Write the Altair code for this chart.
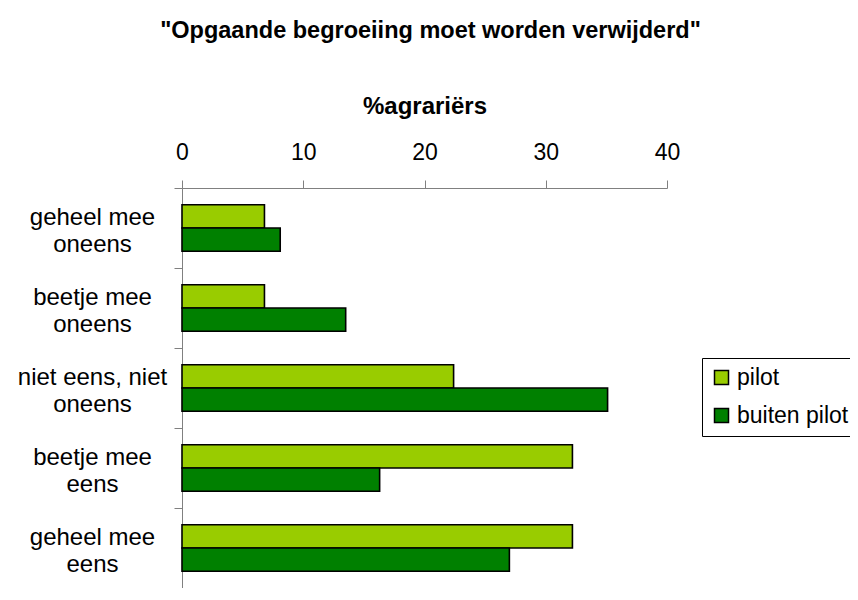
import altair as alt
import pandas as pd

categories = ["geheel mee\noneens", "beetje mee\noneens", "niet eens, niet\noneens",
              "beetje mee\neens", "geheel mee\neens"]
series = ["pilot", "buiten pilot"]
pilot = [6.8, 6.8, 22.4, 32.2, 32.2]
buiten_pilot = [8.1, 13.5, 35.1, 16.3, 27.0]
colors = ["#99CC00", "#008000"]

rows = []
for i, c in enumerate(categories):
    rows.append({"cat": c, "series": series[0], "value": pilot[i]})
    rows.append({"cat": c, "series": series[1], "value": buiten_pilot[i]})
df = pd.DataFrame(rows)

FONT = "Liberation Sans"
H = 400
STEP = H / 5

chart = alt.Chart(df).mark_bar(stroke="black", strokeWidth=1.6).encode(
    x=alt.X("value:Q",
            scale=alt.Scale(domain=[0, 40], nice=False),
            axis=alt.Axis(orient="top", values=[0, 10, 20, 30, 40], title="%agrariërs",
                          grid=False, tickSize=8, labelPadding=16, labelFlush=False,
                          labelFontSize=23, labelFont=FONT, labelColor="black",
                          domainColor="#808080", tickColor="#808080",
                          titleFont=FONT, titleFontSize=24, titleFontWeight="bold",
                          titleColor="black", titleY=-82, titleBaseline="middle")),
    y=alt.Y("cat:N", sort=categories,
            scale=alt.Scale(paddingInner=0.42, paddingOuter=0.21),
            axis=alt.Axis(title=None, tickSize=8, tickOffset=-STEP / 2,
                          labelPadding=82, labelOffset=STEP / 2 - 11,
                          labelAlign="center", labelBaseline="middle",
                          labelExpr="split(datum.label, '\\n')",
                          labelFontSize=24, labelLineHeight=27, labelFont=FONT,
                          labelColor="black", domainColor="#808080", tickColor="#808080",
                          labelLimit=300)),
    yOffset=alt.YOffset("series:N", sort=series,
                        scale=alt.Scale(paddingInner=0, paddingOuter=0)),
    color=alt.Color("series:N", sort=series,
                    scale=alt.Scale(domain=series, range=colors),
                    legend=alt.Legend(title=None, orient="none", legendX=520, legendY=170,
                                      symbolType="square", symbolSize=196,
                                      symbolStrokeColor="black", symbolStrokeWidth=1.5,
                                      labelFontSize=23, labelFont=FONT, labelColor="black",
                                      labelOffset=4, rowPadding=14, padding=8,
                                      strokeColor="black", fillColor="white",
                                      labelLimit=400)),
).properties(
    width=485, height=H,
    title=alt.TitleParams("\"Opgaande begroeiing moet worden verwijderd\"",
                          font=FONT, fontSize=23.5, fontWeight="bold", color="black",
                          anchor="middle", dx=6, offset=52),
    autosize=alt.AutoSizeParams(type="none"),
    padding={"left": 174, "top": 180, "right": 183, "bottom": 0},
).configure_view(stroke=None)

chart.save("out.html", embed_options={"renderer": "svg", "actions": False})
